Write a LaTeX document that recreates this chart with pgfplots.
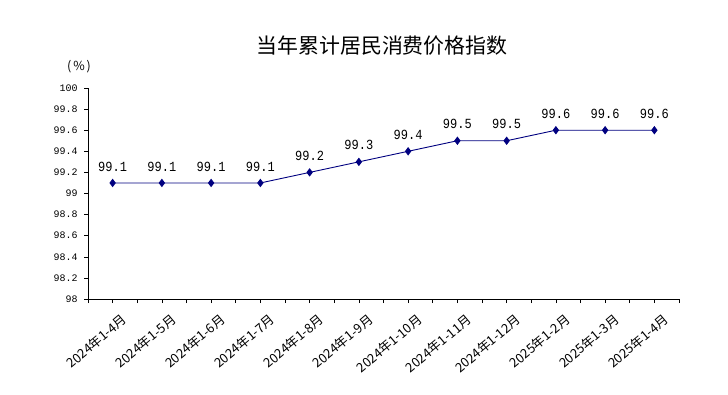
\documentclass[border=0pt]{standalone}
\usepackage{fontspec}
\usepackage{pgfplots}
\pgfplotsset{compat=1.18}
\setmainfont{Liberation Sans}
\newfontfamily\cjk{Noto Sans CJK SC}
\newfontfamily\mono{Liberation Mono}
\newfontfamily\monob[FakeStretch=0.86]{Liberation Mono}
\definecolor{navyline}{RGB}{0,0,128}
\begin{document}
\begin{tikzpicture}
\useasboundingbox (0,0) rectangle (728bp,395bp);
\fill[white] (0,0) rectangle (728bp,395bp);
\node[font=\cjk\fontsize{21}{21}\selectfont] at (382bp,349bp) {当年累计居民消费价格指数};
\node[font=\cjk\fontsize{12.5}{13}\selectfont] at (79bp,328bp) {(\kern2bp\%\kern2bp)};
\begin{axis}[
  at={(88bp,96bp)}, anchor=south west,
  scale only axis, width=591bp, height=211bp,
  xmin=-0.5, xmax=11.5, ymin=98, ymax=100,
  axis x line=bottom, axis y line=left,
  axis line style={-, black, line width=0.8pt},
  xtick={0,...,11},
  minor xtick={-0.5,0.5,...,11.5},
  xticklabels={2024年1-4月,2024年1-5月,2024年1-6月,2024年1-7月,2024年1-8月,2024年1-9月,2024年1-10月,2024年1-11月,2024年1-12月,2025年1-2月,2025年1-3月,2025年1-4月},
  xticklabel style={font=\cjk\fontsize{13}{14}\selectfont, rotate=40, anchor=east, inner sep=1bp, xshift=1bp, yshift=-19bp},
  ytick={98,98.2,...,100.01},
  yticklabel style={font=\mono\fontsize{10}{10}\selectfont, xshift=-3bp},
  /pgf/number format/assume math mode=true,
  tick align=outside,
  major tick length=4bp, minor tick length=4bp,
  tick style={black, line width=0.6pt},
  every minor tick/.style={black, line width=0.6pt},
  clip=false,
  nodes near coords={\pgfmathprintnumber[fixed,fixed zerofill,precision=1,assume math mode=true]{\pgfplotspointmeta}},
  nodes near coords style={font=\monob\fontsize{14}{14}\selectfont, black, anchor=south, yshift=8bp},
]
\addplot[color=navyline, line width=0.9pt, mark=diamond*, mark size=3.5bp, mark options={fill=navyline, draw=navyline}]
coordinates {
(0,99.1) (1,99.1) (2,99.1) (3,99.1) (4,99.2) (5,99.3) (6,99.4) (7,99.5) (8,99.5) (9,99.6) (10,99.6) (11,99.6)
};
\end{axis}
\end{tikzpicture}
\end{document}
